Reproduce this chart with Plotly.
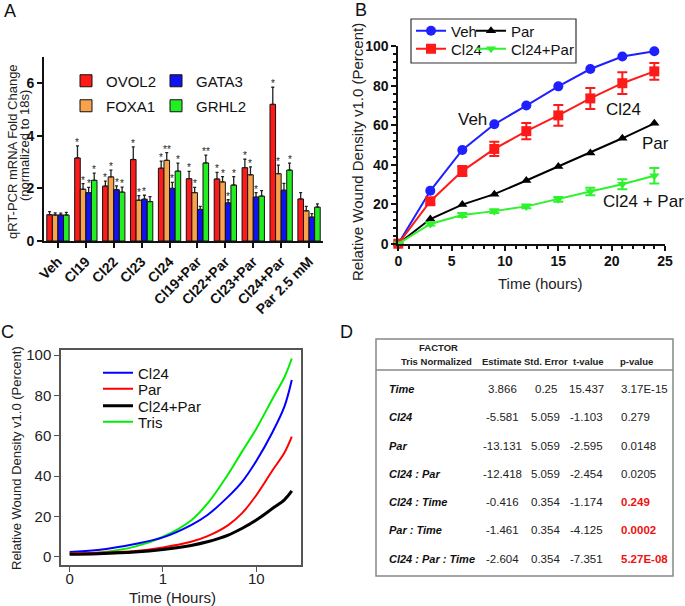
import plotly.graph_objects as go

W, H = 685, 606
FONT = "Liberation Sans, Arial, sans-serif"

def px(x):
    return x / W

def py(y):
    return 1 - y / H

# ---------------- Panel A data ----------------
categories = ["Veh", "Cl19", "Cl22", "Cl23", "Cl24", "Cl19+Par", "Cl22+Par", "Cl23+Par", "Cl24+Par", "Par 2.5 mM"]
ovol2 = [1.00, 3.16, 2.09, 3.10, 2.77, 2.37, 2.36, 2.79, 5.20, 1.60]
ovol2_err = [0.12, 0.46, 0.19, 0.48, 0.27, 0.28, 0.25, 0.32, 0.65, 0.24]
foxa1 = [0.99, 1.97, 2.44, 1.55, 3.07, 1.84, 2.25, 2.52, 2.56, 1.15]
foxa1_err = [0.08, 0.21, 0.26, 0.18, 0.29, 0.20, 0.20, 0.30, 0.33, 0.17]
gata3 = [0.99, 1.84, 1.95, 1.59, 2.00, 1.20, 1.45, 1.67, 1.93, 0.91]
gata3_err = [0.07, 0.20, 0.15, 0.15, 0.23, 0.12, 0.12, 0.17, 0.26, 0.13]
grhl2 = [0.99, 2.31, 1.86, 1.50, 2.66, 2.97, 2.13, 1.71, 2.70, 1.29]
grhl2_err = [0.10, 0.27, 0.19, 0.19, 0.30, 0.30, 0.32, 0.21, 0.26, 0.12]
ovol2_sig = ["", "*", "*", "*", "*", "*", "*", "*", "*", ""]
foxa1_sig = ["", "*", "*", "*", "**", "*", "*", "*", "*", ""]
gata3_sig = ["", "*", "*", "*", "*", "", "*", "*", "", ""]
grhl2_sig = ["", "*", "*", "", "*", "**", "*", "", "*", ""]

# ---------------- Panel B data ----------------
time_b = [0, 3, 6, 9, 12, 15, 18, 21, 24]
veh_b = [0, 26.8, 47.5, 60.5, 70.0, 79.7, 88.5, 94.8, 97.5]
cl24_b = [0, 21.5, 36.8, 48.0, 57.0, 65.0, 73.6, 81.3, 87.3]
cl24_b_err = [0, 1.5, 2.5, 3.6, 4.1, 5.3, 5.3, 5.5, 4.2]
par_b = [0, 12.5, 19.8, 25.1, 32.0, 39.1, 45.9, 53.4, 61.0]
cl24par_b = [0, 10.0, 14.5, 16.5, 18.9, 22.5, 26.4, 30.1, 34.4]
cl24par_b_err = [0, 0.8, 1.0, 1.0, 1.0, 1.2, 1.9, 2.5, 3.9]

# ---------------- Panel C data ----------------
time_c = [0.1, 0.2, 0.5, 1, 2, 3, 5, 7, 10, 15, 20, 24]
cl24_c = [2.3, 3.3, 6.3, 9.6, 15.7, 20.7, 29.8, 37.0, 47.5, 62.0, 74.4, 87.6]
par_c = [1.7, 2.0, 2.8, 4.6, 7.4, 10.2, 15.7, 21.5, 30.5, 43.0, 51.5, 59.5]
cl24par_c = [1.2, 1.5, 2.3, 3.6, 5.6, 7.4, 10.7, 14.0, 18.2, 24.0, 28.2, 32.6]
tris_c = [1.2, 2.0, 5.0, 9.9, 18.0, 26.4, 41.0, 52.0, 63.5, 78.5, 89.0, 98.3]

# ---------------- Panel D data ----------------
d_factors = ["Time", "Cl24", "Par", "Cl24 : Par", "Cl24 : Time", "Par : Time", "Cl24 : Par : Time"]
d_estimate = ["3.866", "-5.581", "-13.131", "-12.418", "-0.416", "-1.461", "-2.604"]
d_stderr = ["0.25", "5.059", "5.059", "5.059", "0.354", "0.354", "0.354"]
d_tvalue = ["15.437", "-1.103", "-2.595", "-2.454", "-1.174", "-4.125", "-7.351"]
d_pvalue = ["3.17E-15", "0.279", "0.0148", "0.0205", "0.249", "0.0002", "5.27E-08"]
d_highlight = [False, False, False, False, True, True, True]

fig = go.Figure()
annotations = []
shapes = []
legends = {}

def add_legend(name, x_px, y_px, size=15):
    legends[name] = dict(x=px(x_px), y=py(y_px), xanchor="left", yanchor="middle",
                         bgcolor="rgba(0,0,0,0)", borderwidth=0,
                         font=dict(family=FONT, size=size, color="#111"),
                         itemclick=False, itemdoubleclick=False)

# ---- Panel A bars ----
a_series = [
    ("OVOL2", ovol2, ovol2_err, ovol2_sig, "#ff1a1a", (66, 81)),
    ("FOXA1", foxa1, foxa1_err, foxa1_sig, "#f9a24e", (66, 106)),
    ("GATA3", gata3, gata3_err, gata3_sig, "#1212f0", (156, 81)),
    ("GRHL2", grhl2, grhl2_err, grhl2_sig, "#22ee22", (156, 106)),
]
offsets = [-0.3, -0.1, 0.1, 0.3]
for k, (name, vals, errs, sig, col, lpos) in enumerate(a_series):
    lg = "legend" if k == 0 else f"legend{k + 1}"
    add_legend(lg, lpos[0], lpos[1], 15)
    fig.add_trace(go.Bar(
        x=categories, y=vals, name=name, legend=lg, showlegend=True,
        marker=dict(color=col, line=dict(color="#111", width=1)),
        error_y=dict(type="data", array=errs, arrayminus=[0] * len(errs), symmetric=False,
                     color="#222", thickness=1.3, width=1.5),
        xaxis="x", yaxis="y",
    ))
    for i, s in enumerate(sig):
        if s:
            annotations.append(dict(x=i + offsets[k], y=vals[i] + errs[i], xref="x", yref="y",
                                    text=s, showarrow=False, yanchor="bottom", yshift=-4,
                                    font=dict(family=FONT, size=10, color="#222")))

# ---- Panel B lines ----
b_series = [
    ("Veh", veh_b, None, "#1f1fff", "circle", 10, (411, 31)),
    ("Par", par_b, None, "#000000", "triangle-up", 9, (471, 31)),
    ("Cl24", cl24_b, cl24_b_err, "#ff1a1a", "square", 10, (411, 49)),
    ("Cl24+Par", cl24par_b, cl24par_b_err, "#2ef22e", "triangle-down", 9, (471, 49)),
]
for k, (name, vals, errs, col, sym, size, lpos) in enumerate(b_series):
    lg = f"legend{5 + k}"
    add_legend(lg, lpos[0], lpos[1], 15)
    tr = dict(x=time_b, y=vals, name=name, legend=lg, showlegend=True, mode="lines+markers",
              line=dict(color=col, width=2), marker=dict(symbol=sym, size=size, color=col),
              xaxis="x2", yaxis="y2", cliponaxis=False)
    if errs is not None:
        tr["error_y"] = dict(type="data", array=errs, color=col, thickness=2, width=5)
    fig.add_trace(go.Scatter(**tr))

# ---- Panel C curves ----
c_series = [
    ("Cl24", cl24_c, "#0000ff", 2, 373),
    ("Par", par_c, "#ff0000", 2, 389),
    ("Cl24+Par", cl24par_c, "#000000", 3, 406),
    ("Tris", tris_c, "#00ee00", 2, 422),
]
order_draw = [3, 0, 1, 2]
for k in order_draw:
    name, vals, col, lw, ly = c_series[k]
    lg = f"legend{9 + k}"
    add_legend(lg, 98, ly, 15)
    fig.add_trace(go.Scatter(x=time_c, y=vals, name=name, legend=lg, showlegend=True, mode="lines",
                             line=dict(color=col, width=lw, shape="spline", smoothing=1.0),
                             xaxis="x3", yaxis="y3"))

# ---------------- Axes ----------------
common_a = dict(showline=True, linecolor="#111", linewidth=2, ticks="outside", ticklen=5,
                tickwidth=2, tickcolor="#111", showgrid=False, zeroline=False, automargin=False)
fig.update_layout(
    xaxis=dict(domain=[px(44), px(323)], anchor="y", type="category", range=[-0.5, 9.5],
               tickangle=-45, tickfont=dict(family=FONT, size=14, color="#111", weight="bold"),
               **common_a),
    yaxis=dict(domain=[py(241), py(57)], anchor="x", range=[0, 7], tickvals=[0, 2, 4, 6],
               tickfont=dict(family=FONT, size=14, color="#111", weight="bold"), **common_a),
    xaxis2=dict(domain=[px(398.3), px(665)], anchor="y2", range=[0, 25], dtick=5,
                tickfont=dict(family=FONT, size=14, color="#111", weight="bold"),
                ticklabelstandoff=-2,
                minor=dict(dtick=1, ticks="outside", ticklen=3, tickwidth=1.5, tickcolor="#111"),
                **common_a),
    yaxis2=dict(domain=[py(243.7), py(46.3)], anchor="x2", range=[0, 100], dtick=20,
                tickfont=dict(family=FONT, size=14, color="#111", weight="bold"),
                minor=dict(dtick=4, ticks="outside", ticklen=3, tickwidth=1.5, tickcolor="#111"),
                **common_a),
    xaxis3=dict(domain=[px(61), px(301)], anchor="y3", type="log", range=[-1.093, 1.479],
                tickvals=[0.1, 1, 10], ticktext=["0", "1", "10"], automargin=False,
                showline=True, mirror=True, linecolor="#555", linewidth=1.5, ticks="outside",
                ticklen=5, tickwidth=1.2, tickcolor="#555", showgrid=False, zeroline=False,
                ticklabelstandoff=-6,
                tickfont=dict(family=FONT, size=15, color="#222")),
    yaxis3=dict(domain=[py(565), py(350)], anchor="x3", range=[-4.1, 102.5], dtick=20,
                automargin=False,
                showline=True, mirror=True, linecolor="#555", linewidth=1.5, ticks="outside",
                ticklen=5, tickwidth=1.2, tickcolor="#555", showgrid=False, zeroline=False,
                tickfont=dict(family=FONT, size=15, color="#222")),
)

# ---------------- Titles / labels ----------------
def ann(x, y, text, size, color="#111", xanchor="center", yanchor="middle", angle=0, weight="normal", style="normal"):
    annotations.append(dict(x=px(x), y=py(y), xref="paper", yref="paper", text=text,
                            showarrow=False, xanchor=xanchor, yanchor=yanchor, textangle=angle,
                            font=dict(family=FONT, size=size, color=color, weight=weight, style=style)))

ann(10, 11, "A", 18)
ann(361, 10, "B", 18)
ann(7, 332, "C", 18)
ann(346, 332, "D", 18)

ann(13, 152, "qRT-PCR mRNA Fold Change", 13, color="#222", angle=-90)
ann(24, 146, "(normalized to 18s)", 13, color="#222", angle=-90)
ann(358, 152, "Relative Wound Density v1.0 (Percent)", 15, color="#222", angle=-90)
ann(540, 283, "Time (hours)", 15, color="#222")
ann(16, 458, "Relative Wound Density v1.0 (Percent)", 13, color="#222", angle=-90)
ann(172, 597, "Time (Hours)", 15, color="#222")

# Panel B in-plot labels
ann(472, 119, "Veh", 17)
ann(623, 110, "Cl24", 17)
ann(655, 143, "Par", 17)
ann(643, 202, "Cl24 + Par", 17)

# Panel B legend box
shapes.append(dict(type="rect", xref="paper", yref="paper", x0=px(411), x1=px(576), y0=py(19), y1=py(63),
                   line=dict(color="#333", width=1.2), fillcolor="rgba(0,0,0,0)"))

# ---------------- Panel D table ----------------
shapes.append(dict(type="rect", xref="paper", yref="paper", x0=px(376), x1=px(673), y0=py(339), y1=py(576),
                   line=dict(color="#888", width=1.5), fillcolor="rgba(0,0,0,0)"))
shapes.append(dict(type="line", xref="paper", yref="paper", x0=px(376), x1=px(673), y0=py(370), y1=py(370),
                   line=dict(color="#888", width=1.5)))
ann(438, 347, "FACTOR", 9.5, weight="bold", color="#222")
ann(436.5, 361, "Tris Normalized", 9.5, weight="bold", color="#222")
ann(502, 361, "Estimate", 9.5, weight="bold", color="#222")
ann(545.7, 361, "Std. Error", 9.5, weight="bold", color="#222")
ann(588, 361, "t-value", 9.5, weight="bold", color="#222")
ann(636, 361, "p-value", 9.5, weight="bold", color="#222")
row_y = [389, 417.3, 445.7, 474, 502, 530.3, 558.5]
for i in range(len(d_factors)):
    yy = row_y[i]
    ann(387, yy, d_factors[i], 11, xanchor="left", weight="bold", style="italic", color="#111")
    ann(502, yy, d_estimate[i], 11.5, color="#222")
    ann(545.7, yy, d_stderr[i], 11.5, color="#222")
    ann(586, yy, d_tvalue[i], 11.5, color="#222")
    if d_highlight[i]:
        ann(619, yy, d_pvalue[i], 11.5, xanchor="left", color="#ee1111", weight="bold")
    else:
        ann(619, yy, d_pvalue[i], 11.5, xanchor="left", color="#222")

fig.update_layout(
    template="none",
    width=W, height=H, margin=dict(l=0, r=0, t=0, b=0, autoexpand=False),
    paper_bgcolor="white", plot_bgcolor="white", showlegend=True,
    barmode="group", bargap=0.2, bargroupgap=0,
    annotations=annotations, shapes=shapes,
    font=dict(family=FONT, color="#111"),
    **legends,
)

fig.write_html("out.html", config={"displayModeBar": False},
               post_script="document.body.style.margin='0';document.body.style.padding='0';")
